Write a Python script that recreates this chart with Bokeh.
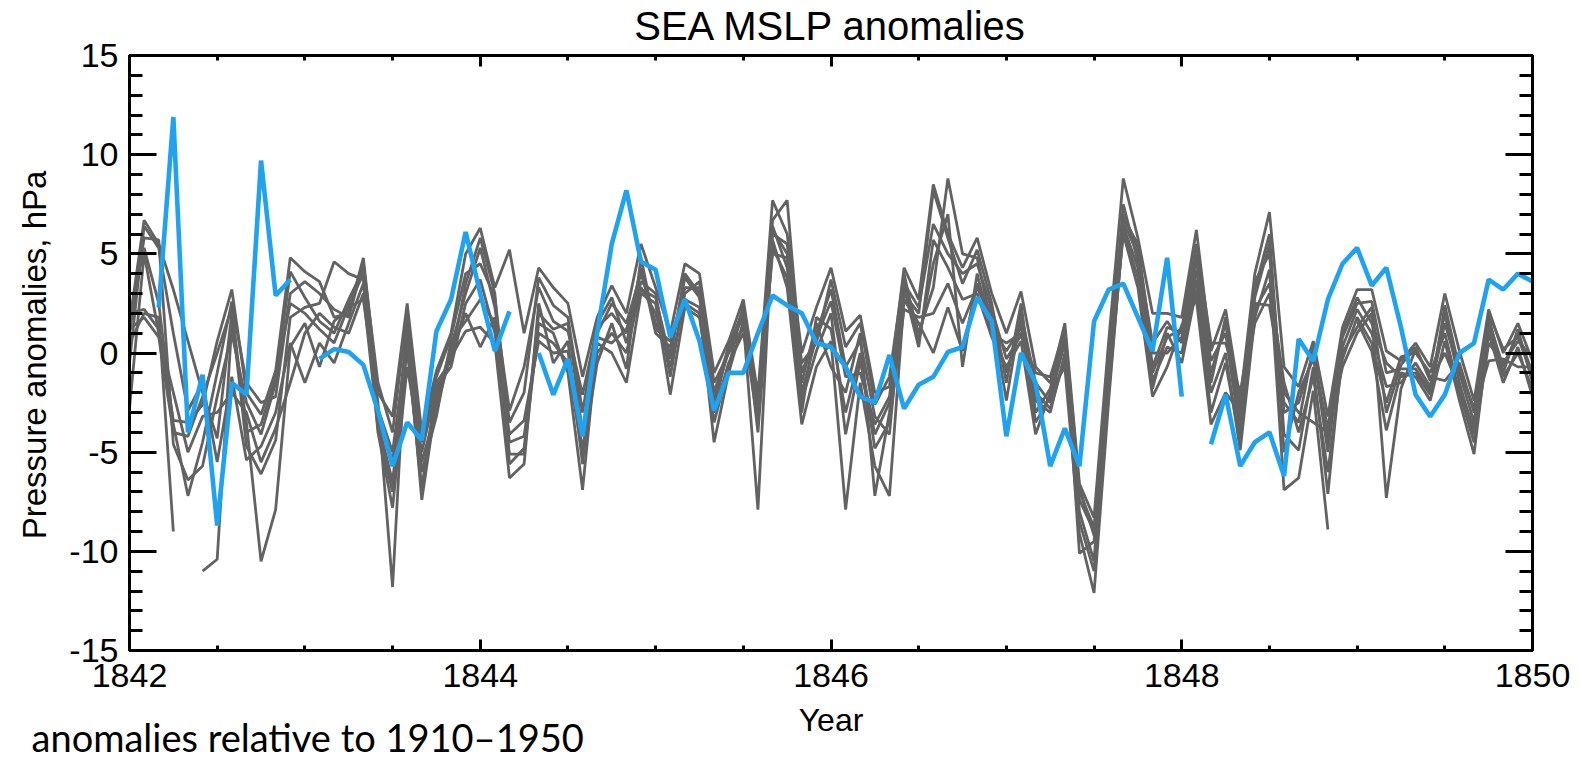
import numpy as np
from bokeh.plotting import figure
from bokeh.models import Range1d, LinearAxis, SingleIntervalTicker, Label
from bokeh.embed import file_html
from bokeh.resources import INLINE

nan = float("nan")

# ---------------- data (monthly, Jan 1842 .. Jan 1850) ----------------
start_year = 1842
n_months = 97

observed = [
    nan, nan, 2.3, 11.9, -4.0, -1.1, -8.7, -1.5, -2.1, 9.7,
    2.9, 3.7, nan, -0.3, 0.2, 0.05, -0.6, -2.9, -5.7, -3.5,
    -4.4, 1.1, 2.7, 6.1, 3.0, 0.1, 2.1, nan, 0.0, -2.1,
    -0.3, -4.2, 1.0, 5.5, 8.2, 4.6, 4.2, 0.8, 2.7, 0.6,
    -2.9, -1.0, -1.0, 1.0, 2.9, 2.4, 2.0, 0.5, 0.3, -0.7,
    -2.2, -2.5, -0.1, -2.8, -1.6, -1.2, 0.05, 0.3, 2.8, 1.6,
    -4.2, 0.0, -1.5, -5.7, -3.8, -5.7, 1.6, 3.2, 3.5, 1.8,
    0.1, 4.8, -2.2, nan, -4.6, -2.1, -5.7, -4.5, -4.0, -6.2,
    0.7, -0.4, 2.7, 4.5, 5.3, 3.4, 4.3, 1.3, -2.1, -3.2,
    -2.1, 0.0, 0.5, 3.7, 3.2, 4.0, 3.6,
]

member_a = [
    2.0, 2.2, 1.2, -3.4, -3.5, -2.6, 0.6, 3.2, -2.0, -3.1,
    -0.9, 4.8, 4.1, 3.6, 1.8, 2.0, 4.8, -2.0, -3.2, 2.5,
    -4.0, -0.9, 1.0, 5.0, 6.3, 3.3, 5.2, 1.0, 4.3, 3.3,
    2.5, -1.2, 1.8, 3.4, 2.0, 5.5, 3.3, 1.0, 4.5, 4.0,
    -1.0, 0.6, 2.7, -2.1, 7.7, 6.0, 0.0, 2.3, 4.3, 1.1,
    1.9, -2.0, -1.7, 4.3, 2.7, 8.5, 6.0, 4.3, 5.8, 3.0,
    1.0, 3.1, -0.7, -1.5, 1.5, -6.6, -8.3, 0.6, 8.8, 5.8,
    2.0, 2.0, 1.8, 6.2, 0.1, 2.2, -2.4, 4.0, 7.1, -0.7,
    -1.7, 0.6, -3.2, 1.3, 3.2, 3.2, 0.1, -0.4, 0.5, -0.7,
    3.0, 0.1, -2.4, 2.2, 0.0, 1.5, -0.4,
]
member_b = [
    1.5, 6.7, 5.5, 3.2, 0.6, -2.0, -4.3, 2.0, -4.7, -6.1,
    -4.4, 1.8, 2.3, 2.5, 4.6, 4.0, 3.7, -3.0, -5.5, 1.0,
    -7.4, -2.4, 0.3, 3.0, 5.3, 2.3, -2.9, -0.7, 3.3, 1.6,
    1.1, -2.1, 1.3, 2.0, 1.0, 4.3, 1.0, 0.3, 3.3, 3.3,
    -2.4, 0.1, 2.0, -3.2, 6.7, 7.7, -1.0, 1.0, 3.2, -0.7,
    0.6, -3.2, -4.1, 3.7, 1.0, 3.3, 8.8, 5.0, 4.8, 1.3,
    0.1, 1.3, -2.4, -3.0, 0.0, -7.4, -9.0, -0.7, 7.0, 5.3,
    -0.7, 1.3, 1.0, 4.7, -0.4, 1.0, -4.1, 3.2, 6.0, -4.1,
    -4.9, -0.7, -7.1, 0.3, 2.2, 1.0, -1.7, -1.5, -0.5, -1.7,
    2.0, -1.5, -4.1, 1.6, -0.7, 1.0, -1.0,
]
member_c = [
    1.0, 5.8, 5.7, -4.6, -6.4, -5.7, -2.2, 1.0, -2.5, -4.1,
    -1.5, 4.1, 2.8, 1.6, 1.0, 2.7, 4.2, -4.0, -7.8, -0.7,
    -5.0, -1.7, -0.7, 2.5, 3.7, 1.0, -4.1, -3.4, 0.6, 0.0,
    0.1, -4.9, 0.0, 1.0, 0.0, 3.3, 2.0, -0.7, 2.7, 2.3,
    -4.5, -1.0, 1.6, -7.9, 6.4, 4.3, -2.4, 0.1, 2.0, -4.1,
    -0.4, -4.1, -2.5, 3.3, 0.3, 5.7, 4.3, 2.7, 3.0, 0.8,
    -0.7, 0.6, -4.1, -2.0, -0.7, -9.1, -12.1, -2.4, 6.4, 4.3,
    -1.4, 0.3, 0.0, 3.7, -2.0, 0.0, -4.9, 1.8, 4.2, -6.9,
    -6.3, -1.9, -8.9, nan, 1.6, 0.1, -3.9, -1.0, -1.2, -2.4,
    0.6, -2.4, -5.1, 1.0, -1.5, 0.3, -2.2,
]
member_d = [
    0.5, 2.0, 1.8, -9.0, nan, -11.0, -10.4, 1.5, -3.5, -10.5,
    -7.9, 0.3, 1.5, -0.7, 1.6, 2.3, 2.7, -2.5, -11.8, 1.8,
    -6.0, -3.2, 0.6, 1.6, 2.7, 1.5, -5.1, -5.1, 1.5, 1.0,
    -1.0, -6.9, 0.5, 0.0, -1.5, 3.0, 2.5, -2.1, 2.3, 1.8,
    -3.0, -0.5, 1.0, -2.5, 5.7, 3.3, -3.6, -0.7, 0.6, -7.9,
    -1.5, -5.7, -7.2, 2.7, 1.5, 0.0, 2.3, 0.1, 3.5, 2.0,
    -2.4, 2.0, -1.5, -2.5, 0.8, -10.1, -9.5, -1.5, 6.0, 3.3,
    -2.2, -0.7, 1.4, 2.7, -3.6, -2.0, -3.0, 2.5, 2.4, -2.0,
    -3.0, -3.5, -4.0, -0.7, 1.0, 2.0, -7.3, -1.8, 0.2, -1.2,
    -1.4, -0.5, -3.0, -0.4, -0.3, -0.7, -0.7,
]
member_e = [
    -0.5, 6.4, 5.3, 1.0, -2.9, -1.5, -5.5, -1.2, -5.4, -4.7,
    -3.0, 0.5, -1.5, 0.5, -0.5, 1.5, 3.5, -3.5, -6.5, 0.2,
    -6.8, -2.0, -0.2, 1.1, 1.3, 0.5, -6.3, -5.6, 2.5, -0.5,
    0.6, -5.6, 1.0, 2.5, 1.5, 4.0, 1.5, 0.0, 3.8, 2.8,
    -2.0, 0.3, 2.2, -2.8, 5.0, 4.8, -1.5, 1.5, -0.7, -2.0,
    1.0, -7.2, -3.0, 3.0, 2.0, 8.2, 5.8, 3.5, 5.2, 2.5,
    -1.5, 2.5, -3.0, -1.8, 1.0, -8.0, -10.5, 0.0, 6.6, 5.0,
    0.5, 1.6, 0.5, 4.2, -1.0, 1.5, -3.5, 3.6, 5.0, -3.0,
    -2.5, 0.0, -5.0, 0.8, 2.5, 2.6, -1.0, -0.8, -0.8, -1.9,
    1.5, -1.0, -3.5, 1.8, -1.0, 1.2, -1.5,
]
member_f = [
    1.8, 5.3, 2.5, -3.6, -7.2, -4.5, -1.0, 2.6, -1.5, -2.5,
    -2.2, 3.0, 3.6, 3.0, 2.2, 1.8, 4.5, -1.5, -4.0, 2.0,
    -4.5, -1.2, 0.8, 4.0, 4.5, 2.8, -3.5, -2.0, 3.8, 2.4,
    1.8, -3.0, 1.5, 2.8, 0.5, 3.6, 3.0, -1.2, 3.0, 3.6,
    -1.5, 0.0, 1.3, -3.5, 6.0, 5.5, -0.5, 0.5, 3.7, 0.3,
    1.5, -2.6, -1.2, 4.0, 0.6, 4.5, 7.0, -0.7, 4.0, 1.0,
    0.5, 1.0, -2.0, -2.8, -0.3, -7.0, -8.8, -1.0, 7.5, 4.6,
    -1.0, 0.8, 1.2, 5.5, 0.5, 0.5, -2.0, 2.2, 3.5, -1.5,
    -4.0, -1.2, -6.0, -0.3, 1.8, 0.5, -2.5, -0.2, 0.0, -1.0,
    1.0, -2.0, -4.5, 0.5, -0.5, 0.6, -0.2,
]
member_g = [
    -2.8, 5.0, 1.0, -2.0, -5.0, -3.2, -3.0, -2.0, -3.0, -5.5,
    -3.8, -1.5, 1.0, 2.0, 1.3, 1.0, 3.0, -3.8, -7.0, 1.4,
    -5.5, -2.8, 0.0, 2.0, 0.3, 1.8, -4.5, -4.2, 1.0, 0.5,
    -0.5, -5.2, -0.5, 1.5, -0.8, 4.8, 1.2, 0.6, 2.5, 2.0,
    -3.5, -0.7, 2.4, -4.0, 5.3, 3.8, -3.0, 1.8, 1.2, -3.0,
    0.0, -4.8, -3.5, 2.2, 1.8, 2.0, 3.5, 1.5, 3.3, 1.7,
    -1.0, 1.6, -3.5, -2.2, 0.5, -8.5, -11.0, -2.0, 6.2, 3.8,
    -1.8, 1.0, -0.5, 3.2, -3.0, -0.5, -4.5, 2.8, 5.5, -5.0,
    -2.0, -0.3, -3.8, 1.0, 2.8, 1.5, -0.5, -1.2, -1.0, -2.1,
    2.4, -0.8, -2.8, 1.3, -1.2, 0.0, -1.8,
]
member_h = [
    1.2, 1.8, 0.8, -4.0, -4.2, -2.2, 0.0, 2.3, -4.0, -3.6,
    -1.2, 2.5, 2.0, 1.2, 0.5, 2.4, 4.0, -2.8, -5.0, 0.5,
    -7.0, -1.5, -0.4, 3.5, 5.8, 3.0, -5.6, -4.8, 2.0, 1.2,
    1.5, -4.0, 0.8, 0.5, 1.2, 3.2, 2.8, -0.3, 4.0, 3.0,
    -2.8, 0.4, 1.8, -3.0, 6.2, 5.0, -2.0, 0.8, 2.6, -1.2,
    -1.0, -3.6, -2.2, 3.5, 2.3, 6.5, 5.0, 4.0, 4.5, 2.2,
    -0.3, 0.9, -1.0, -1.2, 1.2, -6.8, -9.2, 0.3, 6.8, 5.5,
    0.0, 0.0, 0.8, 5.0, -1.5, 1.8, -2.8, 1.5, 3.0, -2.5,
    -3.5, 0.3, -4.5, 0.0, 1.3, 2.3, -3.0, -0.6, 0.3, -1.4,
    0.0, -1.8, -3.8, 2.0, 0.2, 0.8, -1.2,
]

x_tick_values = [1842, 1844, 1846, 1848, 1850]
x_tick_labels = ["1842", "1844", "1846", "1848", "1850"]
y_tick_values = [-15, -10, -5, 0, 5, 10, 15]
y_tick_labels = ["-15", "-10", "-5", "0", "5", "10", "15"]

title_text = "SEA MSLP anomalies"
x_label_text = "Year"
y_label_text = "Pressure anomalies, hPa"
note_text = "anomalies relative to 1910\u20131950"

members = [member_a, member_b, member_c, member_d,
           member_e, member_f, member_g, member_h]
for m in members + [observed]:
    assert len(m) == n_months, len(m)

years = start_year + np.arange(n_months) / 12.0

# ---------------- figure ----------------
W, H = 1579, 759
p = figure(width=W, height=H, output_backend="svg", toolbar_location=None,
           x_range=Range1d(1842, 1850), y_range=Range1d(-15, 15),
           x_axis_location=None, y_axis_location=None,
           min_border_left=129, min_border_right=47,
           min_border_top=55, min_border_bottom=109)
p.grid.visible = False
p.outline_line_color = "black"
p.outline_line_width = 3
p.background_fill_color = "white"
p.border_fill_color = "white"

FONT = "Liberation Sans"
TICK_FS = "34px"


def make_axis(kind, show_labels):
    if kind == "x":
        ticker = SingleIntervalTicker(interval=2, num_minor_ticks=4)
        ax = LinearAxis(ticker=ticker)
        ax.major_tick_in = 11
        ax.minor_tick_in = 5
        ax.major_label_overrides = dict(zip(x_tick_values, x_tick_labels))
        ax.major_label_standoff = 13
    else:
        ticker = SingleIntervalTicker(interval=5, num_minor_ticks=5)
        ax = LinearAxis(ticker=ticker)
        ax.major_tick_in = 27
        ax.minor_tick_in = 13
        ax.major_label_overrides = dict(zip(y_tick_values, y_tick_labels))
        ax.major_label_standoff = 11
    ax.major_tick_out = 0
    ax.minor_tick_out = 0
    ax.axis_line_width = 3
    ax.axis_line_color = "black"
    ax.major_tick_line_width = 3
    ax.minor_tick_line_width = 3
    ax.major_tick_line_color = "black"
    ax.minor_tick_line_color = "black"
    ax.major_label_text_font = FONT
    if show_labels:
        ax.major_label_text_font_size = TICK_FS
        ax.major_label_text_color = "black"
    else:
        # mirrored axis: ticks only, labels not painted
        ax.major_label_text_font_size = "1px"
        ax.major_label_text_color = None
        ax.major_label_standoff = 0
    return ax


p.add_layout(make_axis("x", True), "below")
p.add_layout(make_axis("x", False), "above")
p.add_layout(make_axis("y", True), "left")
p.add_layout(make_axis("y", False), "right")

# ensemble members (grey) then observations (blue)
for m in members:
    p.line(years, np.array(m, dtype=float), line_color="#626262",
           line_width=2.8)
p.line(years, np.array(observed, dtype=float), line_color="#1fa3f0",
       line_width=4.6)

# ---------------- texts ----------------
# Labels live in side panels (so they are not clipped to the frame); each is
# positioned in data units, and each panel is chosen where it has spare room.
p.add_layout(Label(x=1846.0, y=16.5, text=title_text, text_align="center",
                   text_baseline="middle", text_font=FONT,
                   text_font_size="40px", text_color="black"), "above")
p.add_layout(Label(x=1846.0, y=-18.48, text=x_label_text, text_align="center",
                   text_baseline="middle", text_font=FONT,
                   text_font_size="32px", text_color="black"), "left")
p.add_layout(Label(x=1841.4585, y=-0.1, text=y_label_text, angle=np.pi / 2,
                   text_align="center", text_baseline="middle",
                   text_font=FONT, text_font_size="33px",
                   text_color="black"), "right")
p.add_layout(Label(x=1841.4414, y=-19.34, text=note_text, text_align="left",
                   text_baseline="middle", text_font="Lato",
                   text_font_size="38px", text_color="black"), "below")

open("out.html", "w").write(file_html(p, INLINE))
